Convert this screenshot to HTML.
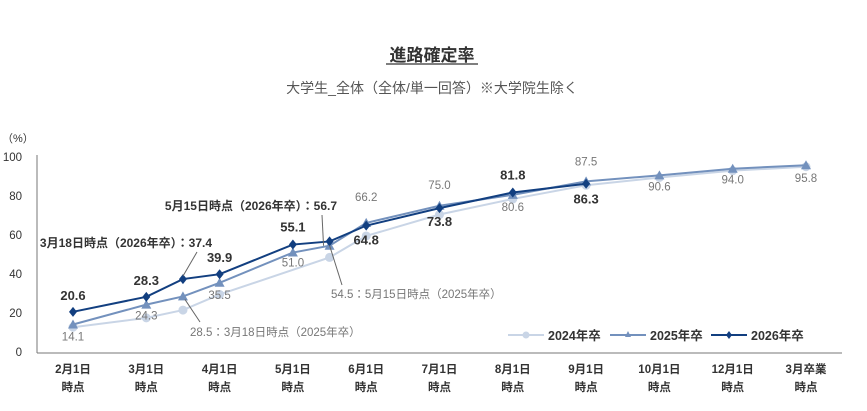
<!DOCTYPE html>
<html><head><meta charset="utf-8"><style>
body{margin:0;background:#fff;}
svg text{font-family:"Liberation Sans","Noto Sans CJK JP",sans-serif;}
</style></head><body>
<svg width="867" height="406" viewBox="0 0 867 406">
<text x="432" y="61" text-anchor="middle" font-size="17" font-weight="bold" fill="#333">進路確定率</text>
<line x1="386" y1="64" x2="478" y2="64" stroke="#333" stroke-width="1.2"/>
<text x="432" y="93" text-anchor="middle" font-size="14" fill="#555">大学生_全体（全体/単一回答）※大学院生除く</text>
<g id="axes"></g><g id="lines"></g><g id="labels"></g>
</svg>
<script>
const categories=["2月1日|時点","3月1日|時点","4月1日|時点","5月1日|時点","6月1日|時点","7月1日|時点","8月1日|時点","9月1日|時点","10月1日|時点","12月1日|時点","3月卒業|時点"];
const positions=[0,1,1.5,2,3,3.5,4,5,6,7,8,9,10];
const s2024=[12.7,17.5,21.5,29.5,null,48.5,59.5,70.5,78.5,85.5,89.5,93.0,95.0];
const s2025=[14.1,24.3,28.5,35.5,51.0,54.5,66.2,75.0,80.6,87.5,90.6,94.0,95.8];
const s2026=[20.6,28.3,37.4,39.9,55.1,56.7,64.8,73.8,81.8,86.3,null,null,null];
const yTicks=[0,20,40,60,80,100];
const NS="http://www.w3.org/2000/svg";
const X=i=>73+i*73.3, Y=v=>352-v*1.95;
function mk(t,a,p){const e=document.createElementNS(NS,t);for(const k in a)e.setAttribute(k,a[k]);p.appendChild(e);return e;}
const ax=document.getElementById('axes'),ln=document.getElementById('lines'),lb=document.getElementById('labels');
let e=mk('line',{x1:37,y1:155,x2:37,y2:353,stroke:'#777','stroke-width':1},ax);

e=mk('line',{x1:37,y1:353,x2:842,y2:353,stroke:'#777','stroke-width':1},ax);

e=mk('text',{x:2,y:142,'font-size':11,fill:'#333'},ax);e.textContent='（%）';

yTicks.forEach(t=>{const el=mk('text',{x:22,y:Y(t)+4,'text-anchor':'end','font-size':11.5,fill:'#333'},ax);el.textContent=t;
});
categories.forEach((c,i)=>{const [a,b]=c.split('|');
const t1=mk('text',{x:X(i),y:373,'text-anchor':'middle','font-size':11.5,'font-weight':'bold',fill:'#333'},ax);t1.textContent=a;

const t2=mk('text',{x:X(i),y:391,'text-anchor':'middle','font-size':11.5,'font-weight':'bold',fill:'#333'},ax);t2.textContent=b;
});
function series(arr,color,shape,name){
 const pts=[];arr.forEach((v,i)=>{if(v!=null)pts.push([X(positions[i]),Y(v)]);});
 const p=mk('polyline',{points:pts.map(q=>q.join(',')).join(' '),fill:'none',stroke:color,'stroke-width':2},ln);
 
 pts.forEach(([x,y])=>{let m;
  if(shape==='c')m=mk('circle',{cx:x,cy:y,r:4.5,fill:color},ln);
  else if(shape==='t')m=mk('polygon',{points:`${x},${y-5} ${x-5},${y+4} ${x+5},${y+4}`,fill:color},ln);
  else m=mk('polygon',{points:`${x},${y-5} ${x+4},${y} ${x},${y+5} ${x-4},${y}`,fill:color},ln);
  });
}
series(s2024,'#c9d5e6','c','series-2024');
series(s2025,'#7391bd','t','series-2025');
series(s2026,'#123f80','d','series-2026');
function lab(x,y,txt,bold,anchor,fs){const t=mk('text',{x:x,y:y,'text-anchor':anchor||'middle','font-size':fs||(bold?13:11.5),'font-weight':bold?'bold':'normal',fill:bold?'#333':'#777'},lb);t.textContent=txt;
}
const l25=[[0,16],[1,15],[3,16],[4,14],[6,-22],[7,-17],[8,16],[9,-16],[10,15],[11,15],[12,17]];
l25.forEach(([i,d])=>lab(X(positions[i]),Y(s2025[i])+d,s2025[i].toFixed(1),false));
const l26=[[0,-12],[1,-12],[3,-12],[4,-13],[6,19],[7,18],[8,-13],[9,20]];
l26.forEach(([i,d])=>lab(X(positions[i]),Y(s2026[i])+d,s2026[i].toFixed(1),true));
lab(212,247,'3月18日時点（2026年卒）：'+s2026[2].toFixed(1),true,'end',12);
lab(337,210,'5月15日時点（2026年卒）：'+s2026[5].toFixed(1),true,'end',12);
lab(190,336,s2025[2].toFixed(1)+'：3月18日時点（2025年卒）',false,'start');
lab(331,298,s2025[5].toFixed(1)+'：5月15日時点（2025年卒）',false,'start');
[[X(1.5),Y(37.4)-3,197,252],[X(1.5)+2,Y(28.5)+3,200,322],[X(3.5),Y(56.7)+4,342,285],[X(3.5)-6,Y(54.5),322,215]].forEach(a=>{
 const l=mk('line',{x1:a[0],y1:a[1],x2:a[2],y2:a[3],stroke:'#666','stroke-width':1},lb);
 });
[['2024年卒','#c9d5e6','c',508],['2025年卒','#7391bd','t',610],['2026年卒','#123f80','d',711]].forEach(([n,c,s,x])=>{
 const g=mk('g',{},lb);
 mk('line',{x1:x,y1:335,x2:x+36,y2:335,stroke:c,'stroke-width':2},g);
 const cx=x+18;
 if(s==='c')mk('circle',{cx:cx,cy:335,r:3.5,fill:c},g);
 else if(s==='t')mk('polygon',{points:`${cx},331 ${cx-3},337 ${cx+3},337`,fill:c},g);
 else mk('polygon',{points:`${cx},331 ${cx+3},335 ${cx},339 ${cx-3},335`,fill:c},g);
 const t=mk('text',{x:x+40,y:340,'font-size':12.5,'font-weight':'bold',fill:'#333'},g);t.textContent=n;});
</script>
</body></html>
